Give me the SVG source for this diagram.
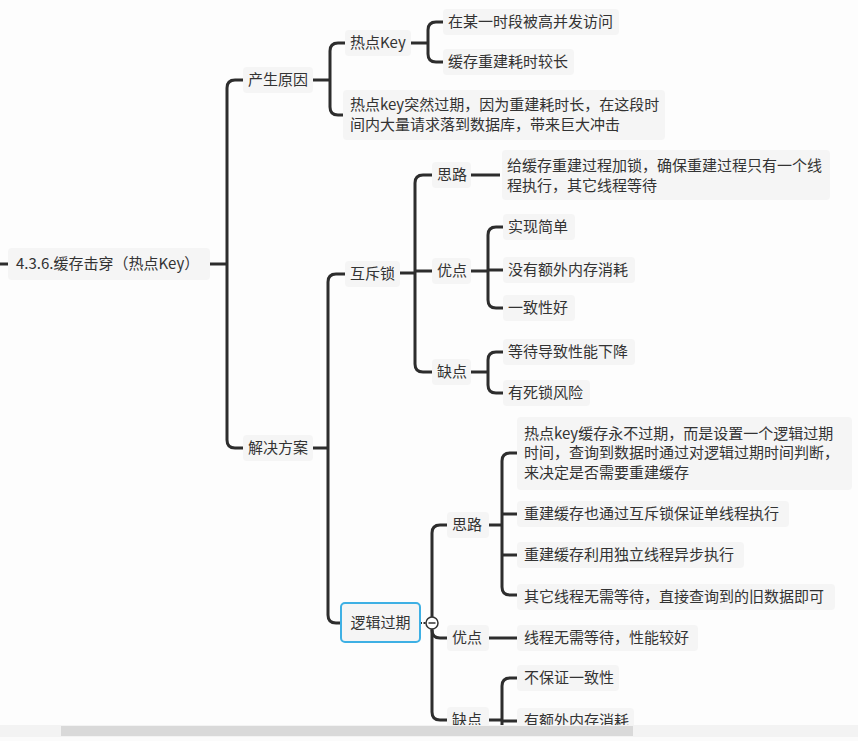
<svg xmlns="http://www.w3.org/2000/svg" width="858" height="741" viewBox="0 0 858 741">
<style>
.t{font-family:"Noto Sans CJK SC","Noto Sans",sans-serif;font-size:15px;fill:#333}
.b{fill:#f5f5f5}
.c{fill:none;stroke:#2d2d2d;stroke-width:3}
</style>
<rect x="0" y="0" width="858" height="741" fill="#fdfdfd"/>
<g id="connectors" class="c">
<path d="M0,264 H8"/>
<path d="M210,264 H227"/>
<path d="M243,80 H235 Q227,80 227,88 V440 Q227,448 235,448 H243"/>
<path d="M313,80 H330"/>
<path d="M345,43 H338 Q330,43 330,51 V107 Q330,115 338,115 H345"/>
<path d="M411,43 H428"/>
<path d="M443,22 H436 Q428,22 428,30 V54 Q428,62 436,62 H443"/>
<path d="M313,448 H328"/>
<path d="M345,274 H336 Q328,274 328,282 V615 Q328,623 336,623 H341"/>
<path d="M400,273 H415"/>
<path d="M432,175 H423 Q415,175 415,183 V364 Q415,372 423,372 H432"/>
<path d="M415,271 H432"/>
<path d="M471,175 H500"/>
<path d="M471,271 H488"/>
<path d="M503,227 H496 Q488,227 488,235 V300 Q488,308 496,308 H503"/>
<path d="M488,270 H503"/>
<path d="M471,372 H488"/>
<path d="M503,352 H496 Q488,352 488,360 V385 Q488,393 496,393 H503"/>
<path d="M420,623 H426" stroke-width="2" stroke-dasharray="2 1.5"/>
<path d="M447,525 H440 Q432,525 432,533 V712 Q432,720 440,720 H447"/>
<path d="M432,630 Q432,638 440,638 H447"/>
<path d="M489,525 H502"/>
<path d="M517,453 H510 Q502,453 502,461 V587 Q502,595 510,595 H517"/>
<path d="M502,514 H517"/>
<path d="M502,555 H517"/>
<path d="M489,638 H517"/>
<path d="M489,720 H502"/>
<path d="M517,678 H510 Q502,678 502,686 V745"/>
<path d="M502,721 H517"/>
</g>
<g id="root"><rect class="b" x="8" y="248" width="202" height="32" rx="4"/><text class="t" x="16" y="269">4.3.6.缓存击穿（热点Key）</text></g>
<g id="cause"><rect class="b" x="243" y="67" width="70" height="26" rx="4"/><text class="t" x="248" y="85">产生原因</text></g>
<g id="hotkey"><rect class="b" x="345" y="30" width="66" height="26" rx="4"/><text class="t" x="350" y="48">热点Key</text></g>
<g id="hotkey-1"><rect class="b" x="443" y="9" width="176" height="26" rx="4"/><text class="t" x="448" y="27">在某一时段被高并发访问</text></g>
<g id="hotkey-2"><rect class="b" x="443" y="49" width="131" height="26" rx="4"/><text class="t" x="448" y="67">缓存重建耗时较长</text></g>
<g id="cause-2"><rect class="b" x="343" y="90" width="322" height="50" rx="4"/><text class="t" x="350" y="110">热点key突然过期，因为重建耗时长，在这段时</text><text class="t" x="350" y="130">间内大量请求落到数据库，带来巨大冲击</text></g>
<g id="solution"><rect class="b" x="243" y="435" width="70" height="26" rx="4"/><text class="t" x="248" y="453">解决方案</text></g>
<g id="mutex"><rect class="b" x="345" y="261" width="55" height="26" rx="4"/><text class="t" x="350" y="279">互斥锁</text></g>
<g id="mutex-idea"><rect class="b" x="432" y="162" width="39" height="26" rx="4"/><text class="t" x="437" y="180">思路</text></g>
<g id="mutex-idea-1"><rect class="b" x="502" y="150" width="328" height="50" rx="4"/><text class="t" x="507" y="171">给缓存重建过程加锁，确保重建过程只有一个线</text><text class="t" x="507" y="191">程执行，其它线程等待</text></g>
<g id="mutex-pro"><rect class="b" x="432" y="258" width="39" height="26" rx="4"/><text class="t" x="437" y="276">优点</text></g>
<g id="mutex-pro-1"><rect class="b" x="503" y="214" width="72" height="26" rx="4"/><text class="t" x="508" y="232">实现简单</text></g>
<g id="mutex-pro-2"><rect class="b" x="503" y="257" width="132" height="26" rx="4"/><text class="t" x="508" y="275">没有额外内存消耗</text></g>
<g id="mutex-pro-3"><rect class="b" x="503" y="295" width="72" height="26" rx="4"/><text class="t" x="508" y="313">一致性好</text></g>
<g id="mutex-con"><rect class="b" x="432" y="359" width="39" height="26" rx="4"/><text class="t" x="437" y="377">缺点</text></g>
<g id="mutex-con-1"><rect class="b" x="503" y="339" width="132" height="26" rx="4"/><text class="t" x="508" y="357">等待导致性能下降</text></g>
<g id="mutex-con-2"><rect class="b" x="503" y="380" width="87" height="26" rx="4"/><text class="t" x="508" y="398">有死锁风险</text></g>
<g id="logic"><rect x="341" y="603" width="79" height="39" rx="4" fill="#f5f5f5" stroke="#3eb0e4" stroke-width="2"/><text class="t" x="380.5" y="628" text-anchor="middle">逻辑过期</text><circle cx="432" cy="623" r="6" fill="#fff" stroke="#333" stroke-width="1.5"/><path d="M428.5,623 H435.5" stroke="#333" stroke-width="1.5"/></g>
<g id="logic-idea"><rect class="b" x="447" y="512" width="42" height="26" rx="4"/><text class="t" x="452" y="530">思路</text></g>
<g id="logic-idea-1"><rect class="b" x="517" y="417" width="335" height="73" rx="4"/><text class="t" x="524" y="439">热点key缓存永不过期，而是设置一个逻辑过期</text><text class="t" x="524" y="458">时间，查询到数据时通过对逻辑过期时间判断，</text><text class="t" x="524" y="478">来决定是否需要重建缓存</text></g>
<g id="logic-idea-2"><rect class="b" x="517" y="501" width="272" height="26" rx="4"/><text class="t" x="524" y="519">重建缓存也通过互斥锁保证单线程执行</text></g>
<g id="logic-idea-3"><rect class="b" x="517" y="542" width="227" height="26" rx="4"/><text class="t" x="524" y="560">重建缓存利用独立线程异步执行</text></g>
<g id="logic-idea-4"><rect class="b" x="517" y="584" width="318" height="26" rx="4"/><text class="t" x="524" y="602">其它线程无需等待，直接查询到的旧数据即可</text></g>
<g id="logic-pro"><rect class="b" x="447" y="625" width="42" height="26" rx="4"/><text class="t" x="452" y="643">优点</text></g>
<g id="logic-pro-1"><rect class="b" x="517" y="625" width="181" height="26" rx="4"/><text class="t" x="524" y="643">线程无需等待，性能较好</text></g>
<g id="logic-con"><rect class="b" x="447" y="707" width="42" height="26" rx="4"/><text class="t" x="452" y="725">缺点</text></g>
<g id="logic-con-1"><rect class="b" x="517" y="665" width="102" height="26" rx="4"/><text class="t" x="524" y="683">不保证一致性</text></g>
<g id="logic-con-2"><rect class="b" x="517" y="708" width="117" height="26" rx="4"/><text class="t" x="524" y="726">有额外内存消耗</text></g>
<g id="scrollbar"><rect x="0" y="725" width="858" height="12" fill="#f3f3f3"/><rect x="61" y="726" width="572" height="10" fill="#d9d9d9"/><rect x="0" y="737" width="858" height="4" fill="#fbfbfb"/></g>
</svg>
